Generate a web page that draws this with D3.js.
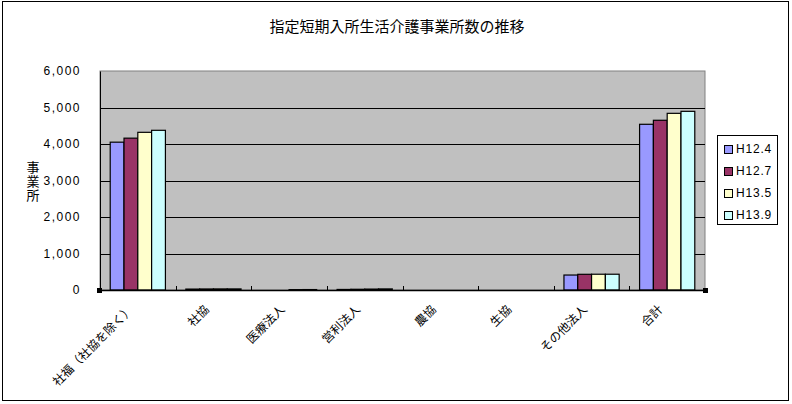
<!DOCTYPE html>
<html><head><meta charset="utf-8">
<script src="https://cdn.jsdelivr.net/npm/d3@7/dist/d3.min.js"></script>
<style>body{margin:0;background:#fff}svg{display:block}</style>
</head><body>
<script>
const categories = ["社福（社協を除く）","社協","医療法人","営利法人","農協","生協","その他法人","合計"];
const seriesNames = ["H12.4","H12.7","H13.5","H13.9"];
const H12_4 = [4050, 25, 0, 15, 0, 0, 410, 4540];
const H12_7 = [4160, 28, 0, 20, 0, 0, 430, 4650];
const H13_5 = [4320, 30, 10, 25, 0, 0, 432, 4840];
const H13_9 = [4375, 30, 12, 30, 0, 0, 432, 4895];
const seriesValues = [H12_4, H12_7, H13_5, H13_9];
const colors = ["#9999FF","#993366","#FFFFCC","#CCFFFF"];
const yTicks = [0,1000,2000,3000,4000,5000,6000];
const title = "指定短期入所生活介護事業所数の推移";
const yLabel = "事業所";

const W=792,H=404;
const jp = "'Noto Sans CJK JP','Noto Sans',sans-serif";
const num = "'Liberation Sans',Arial,sans-serif";
const svg = d3.select("body").append("svg").attr("width",W).attr("height",H);
svg.append("rect").attr("x",2.5).attr("y",1.5).attr("width",786).attr("height",399)
  .attr("fill","#fff").attr("stroke","#000").attr("stroke-width",1);

const pl=100, pr=705, pt=71, pb=290;
const x = d3.scaleBand().domain(categories).range([pl,pr]).paddingInner(0.27).paddingOuter(0.135);
const xs = d3.scaleBand().domain(seriesNames).range([0,x.bandwidth()]);
const y = d3.scaleLinear().domain([0,6000]).range([pb,pt]);

svg.append("rect").attr("x",pl).attr("y",pt).attr("width",pr-pl).attr("height",pb-pt)
  .attr("fill","#C0C0C0").attr("stroke","#808080").attr("stroke-width",1);

// gridlines
svg.append("g").selectAll("line").data(yTicks.filter(d=>d>0 && d<6000)).join("line")
  .attr("x1",pl).attr("x2",pr).attr("y1",d=>Math.round(y(d))+0.5).attr("y2",d=>Math.round(y(d))+0.5)
  .attr("stroke","#000").attr("stroke-width",1);

// bars
seriesNames.forEach((s,i)=>{
  svg.append("g").selectAll("rect").data(categories).join("rect")
    .attr("x",c=>x(c)+xs(s))
    .attr("y",(c,j)=>y(seriesValues[i][j]))
    .attr("width",xs.bandwidth())
    .attr("height",(c,j)=>pb-y(seriesValues[i][j]))
    .attr("fill",colors[i]).attr("stroke","#000").attr("stroke-width",1.2);
});

// y axis
const ya = svg.append("g").attr("transform",`translate(${pl},0)`)
  .call(d3.axisLeft(y).tickValues(yTicks).tickFormat(d3.format(",")).tickSize(0).tickPadding(19));
ya.select(".domain").attr("stroke","#000");
ya.selectAll("text").attr("font-family",num).attr("font-size",12).attr("fill","#000")
  .attr("letter-spacing","1.5px");

// x axis
const xa = svg.append("g").attr("transform",`translate(0,${pb})`)
  .call(d3.axisBottom(x).tickSize(0).tickFormat(""));
xa.select(".domain").remove();
svg.append("line").attr("x1",pl).attr("x2",pr).attr("y1",pb+0.5).attr("y2",pb+0.5).attr("stroke","#000").attr("stroke-width",1.5);
const bounds = d3.range(1,categories.length).map(k=>pl+k*(pr-pl)/categories.length);
svg.append("g").selectAll("line").data(bounds).join("line")
  .attr("x1",d=>Math.round(d)+0.5).attr("x2",d=>Math.round(d)+0.5).attr("y1",pb-4).attr("y2",pb)
  .attr("stroke","#000");
svg.append("g").selectAll("text").data(categories).join("text")
  .attr("transform",c=>`translate(${x(c)+x.bandwidth()/2-6},${pb+18}) rotate(-45)`)
  .attr("text-anchor","end").attr("dominant-baseline","middle")
  .attr("font-family",jp).attr("font-size",12).attr("fill","#000").text(c=>c);

// handles
[[pl-3,pb-2],[pr-2,pb-2]].forEach(([hx,hy])=>{
  svg.append("rect").attr("x",hx).attr("y",hy).attr("width",5).attr("height",5).attr("fill","#000");
});

// title
svg.append("text").attr("x",397).attr("y",28).attr("text-anchor","middle").attr("dominant-baseline","middle")
  .attr("font-family",jp).attr("font-size",15).attr("fill","#000").text(title);

// y label (vertical writing, upright chars)
svg.append("text").attr("x",33).attr("y",182).attr("text-anchor","middle")
  .attr("font-family",jp).attr("font-size",13).attr("fill","#000")
  .style("writing-mode","vertical-rl").style("text-orientation","upright")
  .attr("letter-spacing","1px").text(yLabel);

// legend
const lg = svg.append("g");
lg.append("rect").attr("x",717.5).attr("y",135.5).attr("width",60).attr("height",89)
  .attr("fill","#fff").attr("stroke","#000");
seriesNames.forEach((s,i)=>{
  const yy = 150 + i*22;
  lg.append("rect").attr("x",724.5).attr("y",yy-4.5).attr("width",8).attr("height",8)
    .attr("fill",colors[i]).attr("stroke","#000");
  lg.append("text").attr("x",736).attr("y",yy).attr("dominant-baseline","middle")
    .attr("font-family",num).attr("font-size",12).attr("letter-spacing","0.8px").attr("fill","#000").text(s);
});
</script>
</body></html>
